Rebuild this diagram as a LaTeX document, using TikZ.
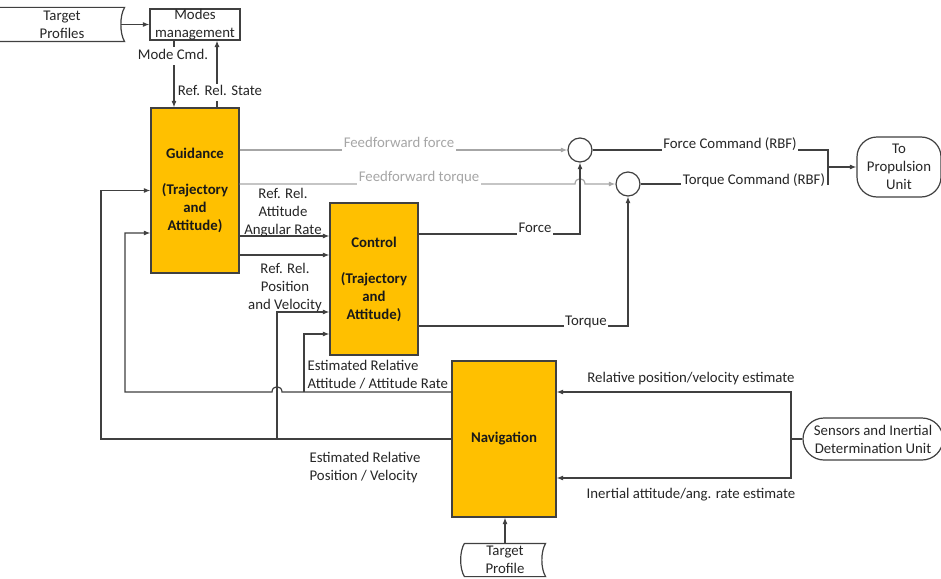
\documentclass[tikz,border=0pt]{standalone}
\usepackage{fontspec}
\setmainfont{Carlito}
\usetikzlibrary{arrows.meta,positioning,calc}
\definecolor{boxfill}{HTML}{FFC000}
\definecolor{linegray}{HTML}{404040}
\definecolor{ffgray}{HTML}{A6A6A6}
\definecolor{txtgray}{HTML}{262626}

\begin{document}
\begin{tikzpicture}[x=1pt,y=-1pt,>={Latex[length=6.5pt,width=5pt]},font=\fontsize{14.8}{18}\selectfont,line width=1.2pt,color=linegray,text=txtgray]
\tikzstyle{blk}=[draw=linegray,fill=boxfill,font=\fontsize{14.8}{18}\selectfont\bfseries,align=center,inner sep=0pt,text=black!90]
\tikzstyle{lbl}=[fill=white,inner sep=1.5pt,text height=10.5pt,text depth=3.5pt,yshift=-1pt]
\tikzstyle{mlbl}=[inner sep=0pt,yshift=-1.5pt]
\tikzstyle{ff}=[ffgray]
\tikzstyle{term}=[draw,rounded corners=20pt,align=center,inner sep=0pt]
\tikzstyle{sumpt}=[draw,circle,minimum size=24pt,inner sep=0pt]
\fill[white] (0,0) rectangle (941,578);
\useasboundingbox (0,0) rectangle (941,578);
% blocks
\node[blk,minimum width=88pt,minimum height=165pt] (guid) at (195,190.5) {Guidance\\[18pt](Trajectory\\and\\Attitude)};
\node[blk,minimum width=88pt,minimum height=152pt] (ctrl) at (374,279) {Control\\[18pt](Trajectory\\and\\Attitude)};
\node[blk,minimum width=104pt,minimum height=156pt] (nav) at (504,439) {Navigation};
\node[draw,minimum width=90pt,minimum height=29pt,inner sep=0pt,align=center] (modes) at (195,24.5) {Modes\\management};
\node[term,minimum width=84pt,minimum height=60pt] (prop) at (899,167) {To\\Propulsion\\Unit};
\node[term,minimum width=140pt,minimum height=42pt,rounded corners=21pt] (sens) at (873,439) {Sensors and Inertial\\Determination Unit};
\node[sumpt] (sum1) at (580,150) {};
\node[sumpt] (sum2) at (628,184) {};
% stored data shapes
\node[minimum width=124pt,minimum height=33pt,inner sep=0pt,align=center] (tgts) at (62,24.5) {Target\\Profiles};
\draw (tgts.north west) -- (tgts.north east) .. controls +(-5,8) and +(-5,-8) .. (tgts.south east) -- (tgts.south west) .. controls +(-5,-8) and +(-5,8) .. (tgts.north west);
\node[minimum width=80pt,minimum height=32pt,inner sep=0pt,align=center] (tgt) at (505,560) {Target\\Profile};
\draw (tgt.north west) -- (tgt.north east) .. controls +(-5,8) and +(-5,-8) .. (tgt.south east) -- (tgt.south west) .. controls +(-5,-8) and +(-5,8) .. (tgt.north west);
% connectors
\draw[->] ([xshift=-4pt]tgts.east) -- (modes.west);
\draw[->] ([xshift=-21pt]modes.south) -- ([xshift=-21pt]guid.north);
\draw[->] ([xshift=22pt]guid.north) -- ([xshift=22pt]modes.south);
\draw[ff,->] ([yshift=40.5pt]guid.east) -- (sum1.west);
\draw[ff,->] ([yshift=6.5pt]guid.east) -- (575,184) .. controls (575,177) and (585,177) .. (585,184) -- (sum2.west);
\draw[->] ([yshift=-45.5pt]guid.east) -- ([yshift=43pt]ctrl.west);
\draw[->] ([yshift=-64.5pt]guid.east) -- ([yshift=24pt]ctrl.west);
\draw[->] ([yshift=45pt]ctrl.east) -| (sum1.south);
\draw[->] ([yshift=-47pt]ctrl.east) -| (sum2.south);
\coordinate (cmdj) at (828,167);
\draw (sum1.east) -| (cmdj);
\draw (sum2.east) -| (cmdj);
\draw[->] (cmdj) -- (prop.west);
% navigation feedback
\coordinate (attbr) at (304,392);
\coordinate (posbr) at (277,439);
\draw[->] ([yshift=47pt]nav.west) -- (282,392) .. controls (282,385) and (272,385) .. (272,392) -- (125,392) |- ([yshift=-42.5pt]guid.west);
\draw[->] (attbr) |- ([yshift=-55pt]ctrl.west);
\draw[->] (nav.west) -- (101,439) |- (guid.west);
\draw[->] (posbr) |- ([yshift=-33pt]ctrl.west);
\coordinate (sensj) at (791,439);
\draw (sens.west) -- (sensj);
\draw[->] (sensj) |- ([yshift=47pt]nav.east);
\draw[->] (sensj) |- ([yshift=-39pt]nav.east);
\draw[->] (tgt.north) -- (tgt.north |- nav.south);
% labels
\foreach \nm/\x/\y/\t in {mcmd/173/55/{Mode Cmd.},rstate/220/91/{Ref. Rel. State},frc/535/228/Force,trq/586/321/Torque,fcmd/730/144/{Force Command (RBF)},tcmd/754/180/{Torque Command (RBF)}}
  \node[lbl] (\nm) at (\x,\y) {\t};
\node[lbl,text=ffgray] (fff) at (399,143) {Feedforward force};
\node[lbl,text=ffgray] (fft) at (419,177) {Feedforward torque};
\node[mlbl] (relpos) at (691,377) {Relative position/velocity estimate};
\node[mlbl] (inatt) at (691,493) {Inertial attitude/ang. rate estimate};
\node[mlbl,align=center] (refatt) at (283,211) {Ref. Rel.\\Attitude\\Angular Rate};
\node[mlbl,align=center] (refpos) at (285,286) {Ref. Rel.\\Position\\and Velocity};
\node[mlbl,align=left,anchor=west] (estatt) at (307,373.5) {Estimated Relative\\Attitude / Attitude Rate};
\node[mlbl,align=left,anchor=west] (estpos) at (309,466) {Estimated Relative\\Position / Velocity};
\end{tikzpicture}
\end{document}
